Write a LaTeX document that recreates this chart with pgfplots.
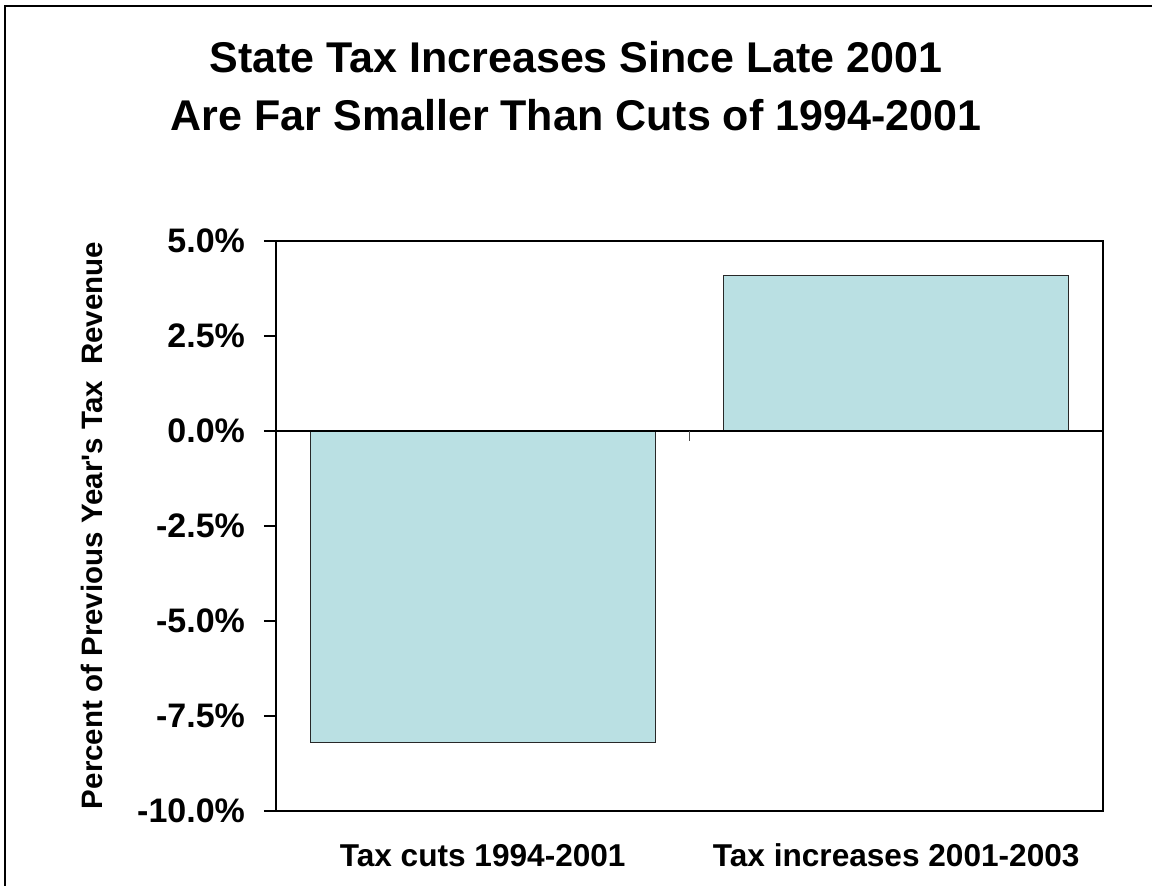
\documentclass[border=0pt]{standalone}
\usepackage{pgfplots}
\pgfplotsset{compat=1.18}
\usepackage{fontspec}
\setmainfont{Liberation Sans}
\definecolor{barfill}{RGB}{186,224,227}
\definecolor{baredge}{RGB}{40,40,40}
\begin{document}
\begin{tikzpicture}
\useasboundingbox (0,0) rectangle (576pt,443pt);
\draw[line width=1pt] (2.5pt,0) -- (2.5pt,440pt) -- (576pt,440pt);
\begin{axis}[
  at={(138pt,37.5pt)}, anchor=south west,
  scale only axis, width=413.5pt, height=285pt,
  xmin=0, xmax=2, ymin=-10, ymax=5,
  axis line style={line width=0.75pt, black},
  ytick={-10,-7.5,-5,-2.5,0,2.5,5},
  ytick pos=left,
  tick align=outside,
  major tick length=6pt,
  ytick style={line width=0.75pt, black},
  /pgf/number format/assume math mode=true,
  yticklabel={\pgfmathprintnumber[fixed,fixed zerofill,precision=1]{\tick}\%},
  yticklabel style={font=\fontsize{17}{19}\selectfont\bfseries, xshift=-6pt},
  xtick={0.5,1.5},
  xticklabels={Tax cuts 1994-2001, Tax increases 2001-2003},
  xtick style={draw=none},
  xticklabel style={font=\fontsize{15.8}{18}\selectfont\bfseries, anchor=base, yshift=-22pt},
  ylabel={Percent of Previous Year\textquotesingle s Tax\ \ Revenue},
  ylabel style={font=\fontsize{14.75}{16}\selectfont\bfseries, at={(rel axis cs:-0.2225,0.501)}, anchor=center},
  title={State Tax Increases Since Late 2001\\Are Far Smaller Than Cuts of 1994-2001},
  title style={font=\fontsize{21.5}{29}\selectfont\bfseries, align=center, at={(rel axis cs:0.3628,1.3298)}, anchor=north, inner sep=0pt},
  ybar, bar width=172.5pt,
]
\addplot[ybar, bar shift=0pt, fill=barfill, draw=baredge, line width=0.6pt] coordinates {(0.5,-8.2) (1.5,4.1)};
\draw[line width=0.75pt, black] (axis cs:0,0) -- (axis cs:2,0);
\draw[line width=0.75pt, black!70] (axis cs:1,0) -- (axis cs:1,-0.27);
\end{axis}
\end{tikzpicture}
\end{document}
